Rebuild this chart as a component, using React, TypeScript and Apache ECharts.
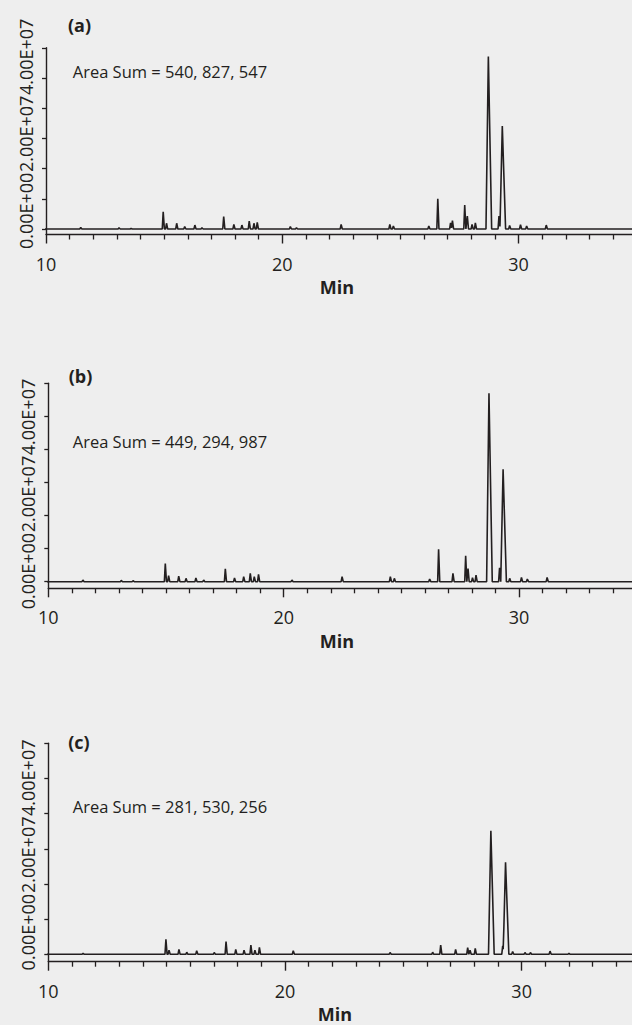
import React, { useEffect, useRef } from "react";
import * as echarts from "echarts";

// ---- data ----
const panelTags = ["(a)", "(b)", "(c)"];
const areaSums = ["540, 827, 547", "449, 294, 987", "281, 530, 256"];
const xAxisTitle = "Min";
const xTickLabels = [10, 20, 30];
const yTickLabels = ["0.00E+00", "2.00E+07", "4.00E+07"];
const yUnit = 1e7; // peak heights below are in units of 1E+07
const runStart = 9.6;
const runEnd = 35;

// [retention time (min), height (x1E+07)]
const peaksA: [number, number][] = [
  [11.47, 0.05], [13.09, 0.04], [13.6, 0.02], [14.96, 0.57], [15.1, 0.19], [15.53, 0.19],
  [15.87, 0.08], [16.3, 0.13], [16.6, 0.04], [17.52, 0.41], [17.95, 0.15], [18.29, 0.13],
  [18.6, 0.26], [18.8, 0.19], [18.94, 0.22], [20.34, 0.08], [20.6, 0.04], [22.49, 0.15],
  [24.55, 0.15], [24.7, 0.1], [26.2, 0.1], [26.58, 1.0], [27.12, 0.2], [27.2, 0.28],
  [27.72, 0.79], [27.83, 0.43], [28.03, 0.15], [28.17, 0.2], [28.72, 5.71], [29.17, 0.43],
  [29.31, 3.41], [29.62, 0.12], [30.08, 0.14], [30.34, 0.1], [31.17, 0.13],
];
const peaksB: [number, number][] = [
  [11.47, 0.05], [13.1, 0.04], [13.6, 0.03], [14.97, 0.55], [15.11, 0.18], [15.54, 0.17],
  [15.85, 0.1], [16.27, 0.11], [16.6, 0.05], [17.52, 0.39], [17.91, 0.11], [18.3, 0.15],
  [18.58, 0.25], [18.75, 0.15], [18.93, 0.22], [20.35, 0.05], [22.48, 0.15], [24.53, 0.15],
  [24.7, 0.1], [26.2, 0.08], [26.58, 0.98], [27.19, 0.25], [27.73, 0.78], [27.83, 0.4],
  [28.02, 0.12], [28.17, 0.2], [28.72, 5.7], [29.17, 0.42], [29.32, 3.4], [29.6, 0.1],
  [30.1, 0.13], [30.35, 0.08], [31.19, 0.13],
];
const peaksC: [number, number][] = [
  [11.47, 0.03], [14.97, 0.43], [15.1, 0.12], [15.52, 0.14], [15.85, 0.06], [16.27, 0.1],
  [17.01, 0.05], [17.51, 0.36], [17.92, 0.14], [18.27, 0.12], [18.56, 0.26], [18.73, 0.12],
  [18.92, 0.2], [20.35, 0.1], [24.44, 0.05], [26.24, 0.06], [26.58, 0.26], [27.21, 0.14],
  [27.72, 0.19], [27.82, 0.12], [28.04, 0.17], [28.7, 3.51], [29.2, 0.24], [29.32, 2.62],
  [29.62, 0.08], [30.14, 0.05], [30.37, 0.05], [31.2, 0.09], [32.0, 0.03],
];
const allPeaks = [peaksA, peaksB, peaksC];

// ---- trace builder: narrow triangular peaks on a flat baseline ----
function buildTrace(peaks: [number, number][]) {
  const shapes = peaks.map(([rt, h]) => {
    const big = h >= 2;
    return { rt, h, wl: big ? 0.1 : 0.04, wr: big ? 0.14 : 0.05 };
  });
  const xs = new Set<number>([runStart, runEnd]);
  shapes.forEach((s) => {
    xs.add(+(s.rt - s.wl).toFixed(4));
    xs.add(s.rt);
    xs.add(+(s.rt + s.wr).toFixed(4));
  });
  const sorted = Array.from(xs).sort((a, b) => a - b);
  return sorted.map((x) => {
    let y = 0;
    for (const s of shapes) {
      if (x > s.rt - s.wl && x <= s.rt) y += (s.h * (x - (s.rt - s.wl))) / s.wl;
      else if (x > s.rt && x < s.rt + s.wr) y += (s.h * (s.rt + s.wr - x)) / s.wr;
    }
    return [x, y * yUnit];
  });
}

// ---- layout (positions / styles) ----
const layouts = [
  { left: 46, top: 47.8, height: 186.7, width: 708.9, yMin: -1.82e6, labelAt: [0.6e7, 3.15e7, 5.7e7], tag: [79.5, 24.5], sum: [72.7, 71.7], minAt: [337, 286.5] },
  { left: 48.3, top: 383.3, height: 205, width: 706.2, yMin: -2.0e6, labelAt: [0.32e7, 2.65e7, 4.98e7], tag: [80.5, 376], sum: [72.7, 441.7], minAt: [337, 640.5] },
  { left: 48.3, top: 743.3, height: 218.4, width: 710, yMin: -2.1e6, labelAt: [0.63e7, 2.83e7, 5.02e7], tag: [79, 742], sum: [72.7, 806], minAt: [335, 1013.5] },
];

const INK = "#231f20";
const FONT = '"Open Sans", "Noto Sans", sans-serif';

export default function App() {
  const ref = useRef<HTMLDivElement>(null);

  useEffect(() => {
    if (!ref.current) return;
    const chart = echarts.init(ref.current, null, { renderer: "svg" });

    const yTicks = [0, 1, 2, 3, 4, 5, 6].map((v) => v * yUnit);

    const grids = layouts.map((l) => ({
      left: l.left,
      top: l.top,
      height: l.height,
      width: l.width,
      containLabel: false,
      outerBoundsMode: "none",
    }));

    const xAxes = layouts.map((_, i) => ({
      type: "value",
      gridIndex: i,
      min: 10,
      max: 40,
      interval: 10,
      position: "bottom",
      axisLine: { show: true, onZero: false, lineStyle: { color: INK, width: 1.4 } },
      axisTick: { show: true, inside: false, length: 9, lineStyle: { color: INK, width: 1.4 } },
      minorTick: { show: true, splitNumber: 10, length: 5, lineStyle: { color: INK, width: 1.3 } },
      splitLine: { show: false },
      minorSplitLine: { show: false },
      axisLabel: {
        show: true,
        customValues: xTickLabels,
        color: INK,
        fontSize: 18,
        fontFamily: FONT,
        margin: 20,
      },
    }));

    const yAxes = layouts.map((l, i) => ({
      type: "value",
      gridIndex: i,
      min: l.yMin,
      max: 6 * yUnit,
      position: "left",
      axisLine: { show: true, onZero: false, lineStyle: { color: INK, width: 1.4 } },
      axisTick: { show: true, inside: false, length: 4, customValues: yTicks, lineStyle: { color: INK, width: 1.3 } },
      splitLine: { show: false },
      axisLabel: {
        show: true,
        customValues: l.labelAt,
        rotate: 90,
        margin: 11,
        color: INK,
        fontSize: 18,
        fontFamily: FONT,
        formatter: (v: number) => {
          const idx = l.labelAt.findIndex((p) => Math.abs(p - v) < 1);
          return idx >= 0 ? yTickLabels[idx] : "";
        },
      },
    }));

    const series = allPeaks.map((p, i) => ({
      type: "line",
      xAxisIndex: i,
      yAxisIndex: i,
      data: buildTrace(p),
      symbol: "none",
      showSymbol: false,
      clip: false,
      lineStyle: { color: INK, width: 1.6, join: "bevel" },
      silent: true,
    }));

    const graphics: any[] = [];
    layouts.forEach((l, i) => {
      graphics.push({
        type: "text",
        x: l.tag[0],
        y: l.tag[1],
        style: { text: panelTags[i], fill: INK, font: `bold 18px ${FONT}`, align: "center", verticalAlign: "middle", textAlign: "center", textVerticalAlign: "middle" },
      });
      graphics.push({
        type: "text",
        x: l.sum[0],
        y: l.sum[1],
        style: { text: `Area Sum = ${areaSums[i]}`, fill: INK, font: `16.5px ${FONT}`, align: "left", verticalAlign: "middle", textAlign: "left", textVerticalAlign: "middle" },
      });
      graphics.push({
        type: "text",
        x: l.minAt[0],
        y: l.minAt[1],
        style: { text: xAxisTitle, fill: INK, font: `bold 18px ${FONT}`, align: "center", verticalAlign: "middle", textAlign: "center", textVerticalAlign: "middle" },
      });
    });

    chart.setOption({
      animation: false,
      backgroundColor: "#eeeeee",
      grid: grids,
      xAxis: xAxes,
      yAxis: yAxes,
      series,
      graphic: graphics,
    });

    return () => chart.dispose();
  }, []);

  return (
    <div
      ref={ref}
      style={{ position: "fixed", left: 0, top: 0, width: 632, height: 1025, overflow: "hidden" }}
    />
  );
}
